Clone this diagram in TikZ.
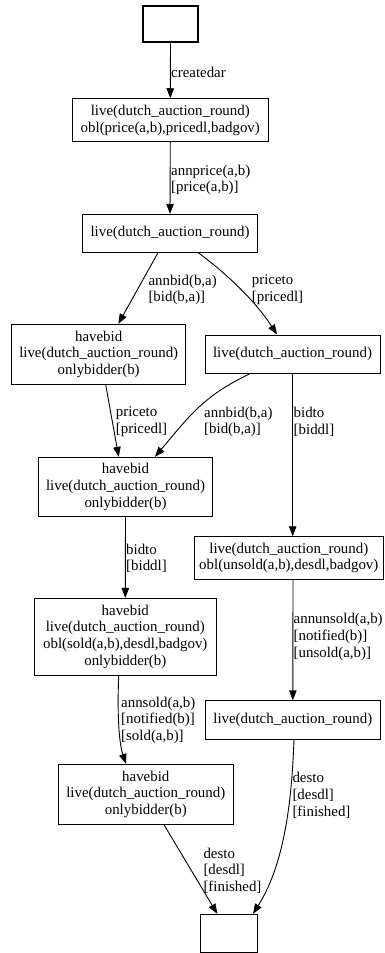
\documentclass[tikz,border=0pt]{standalone}
\usepackage{fontspec}
\setmainfont{Liberation Serif}
\usetikzlibrary{arrows.meta}
\begin{document}
\begin{tikzpicture}[x=1pt,y=-1pt,
  every node/.style={font=\fontsize{14.9}{16.8}\selectfont},
  state/.style={draw, line width=0.9pt, inner sep=0pt, align=center},
  trans/.style={draw, line width=0.9pt, -{Triangle[length=10pt,width=7.5pt]}},
  lbl/.style={anchor=west, inner sep=0pt, align=left}]
\useasboundingbox (0,0) rectangle (385,953);

% states
\node[state, line width=2pt, minimum width=55.5pt, minimum height=36.5pt] (n0) at (170.5,24) {};
\node[state, minimum width=196pt, minimum height=43pt] (n1) at (170.3,120.2)
  {live(dutch\_auction\_round)\\obl(price(a,b),pricedl,badgov)};
\node[state, minimum width=175.4pt, minimum height=38pt] (n2) at (170,233.3)
  {live(dutch\_auction\_round)};
\node[state, minimum width=174pt, minimum height=60pt] (n3) at (98.7,354.3)
  {havebid\\live(dutch\_auction\_round)\\onlybidder(b)};
\node[state, minimum width=175pt, minimum height=38.7pt] (n4) at (292.5,354.3)
  {live(dutch\_auction\_round)};
\node[state, minimum width=174.4pt, minimum height=59.4pt] (n5) at (125.5,487)
  {havebid\\live(dutch\_auction\_round)\\onlybidder(b)};
\node[state, minimum width=189pt, minimum height=42.6pt] (n6) at (288.8,558)
  {live(dutch\_auction\_round)\\obl(unsold(a,b),desdl,badgov)};
\node[state, minimum width=181.3pt, minimum height=76.7pt] (n7) at (125.3,636.7)
  {havebid\\live(dutch\_auction\_round)\\obl(sold(a,b),desdl,badgov)\\onlybidder(b)};
\node[state, minimum width=174.3pt, minimum height=38.3pt] (n8) at (292.8,720)
  {live(dutch\_auction\_round)};
\node[state, minimum width=175pt, minimum height=60pt] (n9) at (145.8,794.3)
  {havebid\\live(dutch\_auction\_round)\\onlybidder(b)};
\node[state, minimum width=57pt, minimum height=38pt] (n10) at (228.8,933.3) {};

% transitions
\draw[trans] (n0.south) -- (n1.north);
\draw[trans] (n1.south) -- (n2.north);
\draw[trans] ([xshift=-12pt]n2.south) -- ([xshift=19.6pt]n3.north);
\draw[trans] ([xshift=28.3pt]n2.south) .. controls (219,268) and (252,296) .. ([xshift=-15.5pt]n4.north);
\draw[trans] ([xshift=7pt]n3.south) -- ([xshift=-6.8pt]n5.north);
\draw[trans] ([xshift=-43.2pt]n4.south) .. controls (205,395) and (190,415) .. ([xshift=29.5pt]n5.north);
\draw[trans] ([xshift=0.2pt]n4.south) -- ([xshift=3.9pt]n6.north);
\draw[trans] (n5.south) -- (n7.north);
\draw[trans] ([xshift=4.2pt]n6.south) -- (n8.north);
\draw[trans] ([xshift=-6.6pt]n7.south) .. controls (117.5,705) and (118,740) .. ([xshift=-19.8pt]n9.north);
\draw[trans] ([xshift=18.2pt]n9.south) -- ([xshift=-11.5pt]n10.north);
\draw[trans] ([xshift=1.2pt]n8.south) .. controls (292,790) and (287,860) .. ([xshift=24.2pt]n10.north);

% transition labels
\node[lbl] (l0) at (171,72) {createdar};
\node[lbl] (l1) at (171,180) {annprice(a,b)\\{}[price(a,b)]};
\node[lbl] (l2) at (148.3,290) {annbid(b,a)\\{}[bid(b,a)]};
\node[lbl] (l3) at (251.7,290) {priceto\\{}[pricedl]};
\node[lbl] (l4) at (115.7,422) {priceto\\{}[pricedl]};
\node[lbl] (l5) at (204,422) {annbid(b,a)\\{}[bid(b,a)]};
\node[lbl] (l6) at (293.5,422) {bidto\\{}[biddl]};
\node[lbl] (l7) at (126,558.4) {bidto\\{}[biddl]};
\node[lbl] (l8) at (293.5,636.7) {annunsold(a,b)\\{}[notified(b)]\\{}[unsold(a,b)]};
\node[lbl] (l9) at (121,720.3) {annsold(a,b)\\{}[notified(b)]\\{}[sold(a,b)]};
\node[lbl] (l10) at (203.3,870.8) {desto\\{}[desdl]\\{}[finished]};
\node[lbl] (l11) at (292.3,795.6) {desto\\{}[desdl]\\{}[finished]};
\end{tikzpicture}
\end{document}
